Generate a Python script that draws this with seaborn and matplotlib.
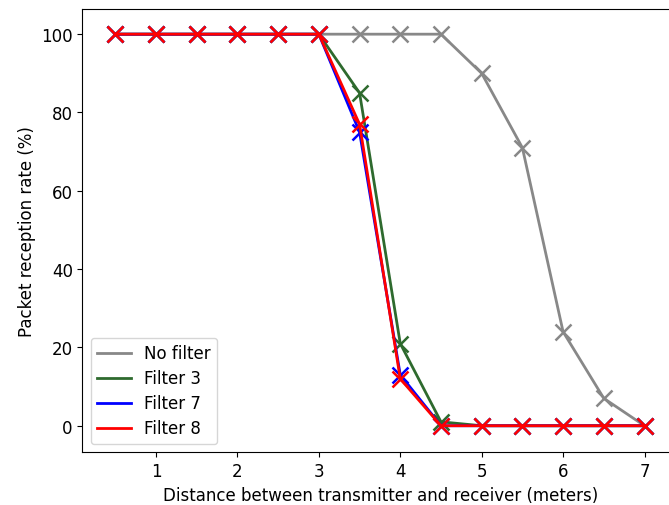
import matplotlib
matplotlib.use("Agg")
import matplotlib.pyplot as plt
import seaborn as sns
import pandas as pd

# Distance between transmitter and receiver (meters)
distance = [0.5, 1, 1.5, 2, 2.5, 3, 3.5, 4, 4.5, 5, 5.5, 6, 6.5, 7]

# Packet reception rate (%) per configuration
no_filter = [100, 100, 100, 100, 100, 100, 100, 100, 100, 90, 71, 24, 7, 0]
filter_3 = [100, 100, 100, 100, 100, 100, 85, 21, 1, 0, 0, 0, 0, 0]
filter_7 = [100, 100, 100, 100, 100, 100, 75, 13, 0, 0, 0, 0, 0, 0]
filter_8 = [100, 100, 100, 100, 100, 100, 77, 12, 0, 0, 0, 0, 0, 0]

series_names = ["No filter", "Filter 3", "Filter 7", "Filter 8"]
series_values = [no_filter, filter_3, filter_7, filter_8]
colors = ["#888888", "#2e6a2e", "#0000ff", "#ff0000"]

plt.rcParams["font.size"] = 12

fig = plt.figure(figsize=(6.69, 5.06), dpi=100)
ax = fig.add_axes([0.1233, 0.104, 0.89, 0.876])

for name, vals, col in zip(series_names, series_values, colors):
    df = pd.DataFrame({"distance": distance, "rate": vals})
    sns.lineplot(data=df, x="distance", y="rate", ax=ax, color=col,
                 marker="x", markersize=12, markeredgewidth=1.8,
                 markeredgecolor=col, linewidth=2, label=name)

ax.set_xlim(0.097, 7.41)
ax.set_ylim(-6.8, 106.4)
ax.set_xticks([1, 2, 3, 4, 5, 6, 7])
ax.set_yticks([0, 20, 40, 60, 80, 100])
ax.tick_params(labelsize=12)
ax.set_xlabel("Distance between transmitter and receiver (meters)", fontsize=12)
ax.set_ylabel("Packet reception rate (%)", fontsize=12)

leg = ax.legend(loc="lower left", handlelength=2, fontsize=12, labelspacing=0.42)
for h in leg.get_lines():
    h.set_marker("")

fig.savefig("out.png", dpi=100)
